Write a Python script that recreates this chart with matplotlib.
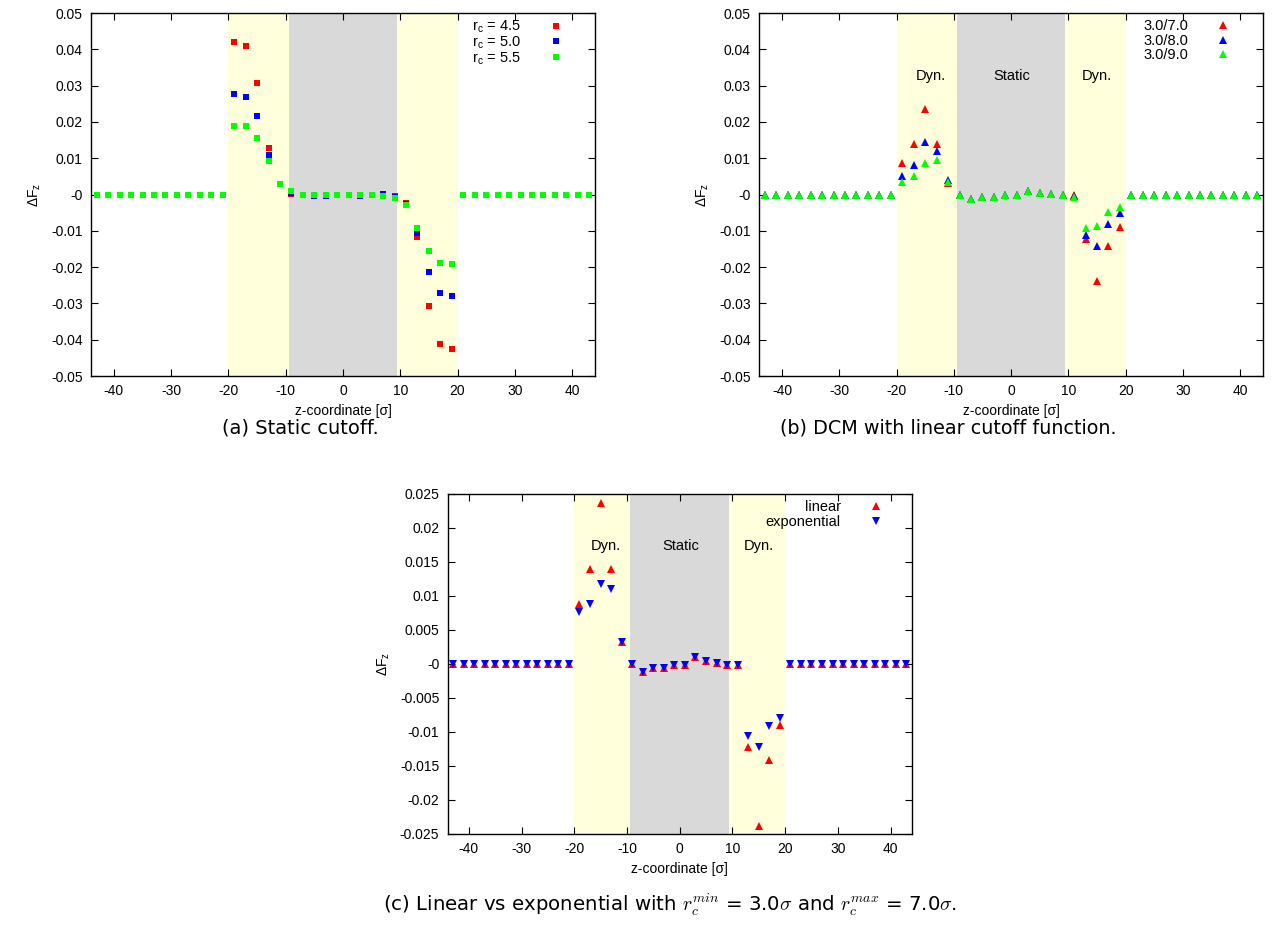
import matplotlib
matplotlib.use("Agg")
import matplotlib.pyplot as plt
from matplotlib.ticker import FuncFormatter, MultipleLocator

plt.rcParams['font.family'] = ['Liberation Sans', 'DejaVu Sans']
plt.rcParams['axes.unicode_minus'] = False

# z-Koordinaten der Messpunkte
z = [-43, -41, -39, -37, -35, -33, -31, -29, -27, -25, -23, -21,
     -19, -17, -15, -13, -11, -9, -7, -5, -3, -1,
     1, 3, 5, 7, 9, 11, 13, 15, 17, 19,
     21, 23, 25, 27, 29, 31, 33, 35, 37, 39, 41, 43]

zeros12 = [0.0] * 12

# (a) statischer Cutoff
a_rc45 = zeros12 + [0.0421, 0.0410, 0.0308, 0.0127, 0.0029, 0.0001, 0.0, -0.0002, -0.0002, 0.0,
                    0.0, -0.0001, -0.0002, -0.0001, -0.0004, -0.0024, -0.0118, -0.0307, -0.0411, -0.0425] + zeros12
a_rc50 = zeros12 + [0.0276, 0.0270, 0.0215, 0.0108, 0.0029, 0.0004, 0.0, -0.0003, -0.0003, 0.0,
                    0.0, -0.0003, -0.0002, 0.0002, -0.0008, -0.0027, -0.0105, -0.0213, -0.0271, -0.0279] + zeros12
a_rc55 = zeros12 + [0.0190, 0.0188, 0.0155, 0.0092, 0.0028, 0.0009, 0.0, 0.0, 0.0, 0.0,
                    0.0, 0.0, -0.0002, -0.0005, -0.0010, -0.0029, -0.0091, -0.0156, -0.0189, -0.0191] + zeros12

# (b) DCM, lineare Cutoff-Funktion
b_70 = zeros12 + [0.0087, 0.0139, 0.0237, 0.0139, 0.0033, 0.0, -0.0012, -0.0006, -0.0006, -0.0001,
                  -0.0001, 0.0011, 0.0005, 0.0002, -0.0002, -0.0002, -0.0122, -0.0237, -0.0141, -0.0089] + zeros12
b_80 = zeros12 + [0.0052, 0.0082, 0.0144, 0.0121, 0.0041, 0.0, -0.0012, -0.0006, -0.0006, -0.0001,
                  -0.0001, 0.0011, 0.0005, 0.0002, -0.0002, -0.0003, -0.0111, -0.0143, -0.0081, -0.0051] + zeros12
b_90 = zeros12 + [0.0034, 0.0050, 0.0087, 0.0096, 0.0034, 0.0, -0.0012, -0.0006, -0.0006, -0.0001,
                  -0.0001, 0.0011, 0.0005, 0.0002, -0.0002, -0.0008, -0.0092, -0.0087, -0.0049, -0.0033] + zeros12

# (c) linear vs exponentiell
c_lin = zeros12 + [0.00875, 0.0139, 0.0237, 0.0140, 0.0032, 0.0, -0.0012, -0.0006, -0.0006, -0.0001,
                   -0.0001, 0.0011, 0.0005, 0.0002, -0.0002, -0.0002, -0.0122, -0.0238, -0.0141, -0.0089] + zeros12
c_exp = zeros12 + [0.0076, 0.00875, 0.0118, 0.0111, 0.0032, 0.0, -0.0012, -0.0006, -0.0006, -0.0001,
                   -0.0001, 0.0011, 0.0005, 0.0002, -0.0002, -0.0002, -0.0106, -0.0122, -0.0091, -0.0079] + zeros12

# Bereiche: dynamisch | statisch | dynamisch
zone_edges = [-20, -9.5, 9.4, 20]
zone_labels = ['Dyn.', 'Static', 'Dyn.']
zone_label_x = [-14, 0.2, 15]

YELLOW = '#FFFFDC'
GRAY = '#D9D9D9'


def fmt(v, pos):
    return '%g' % round(v, 6)


def setup_axes(ax, ylim, ystep):
    for i in range(3):
        ax.axvspan(zone_edges[i], zone_edges[i + 1], color=GRAY if i == 1 else YELLOW, lw=0, zorder=0)
    ax.set_xlim(-44, 44)
    ax.set_ylim(*ylim)
    ax.xaxis.set_major_locator(MultipleLocator(10))
    ax.yaxis.set_major_locator(MultipleLocator(ystep))
    ax.yaxis.set_major_formatter(FuncFormatter(fmt))
    ax.tick_params(direction='in', top=True, right=True, length=5, width=0.8, labelsize=10, pad=6)
    for s in ax.spines.values():
        s.set_linewidth(1.0)
    ax.set_xlabel('z-coordinate [σ]', fontsize=10, labelpad=4)
    ax.set_ylabel(r'$\mathregular{\Delta F_z}$', fontsize=10, labelpad=6)


def add_zone_labels(ax, y):
    for lab, x in zip(zone_labels, zone_label_x):
        ax.text(x, y, lab, ha='center', va='center', fontsize=10.5)


def add_legend(ax, anchor, spacing):
    ax.legend(loc='upper right', bbox_to_anchor=anchor, frameon=False, markerfirst=False,
              numpoints=1, handlelength=1.2, handletextpad=1.8, labelspacing=spacing,
              fontsize=10.5, borderaxespad=0.5)


fig = plt.figure(figsize=(12.74, 9.31), dpi=100)
ax_a = fig.add_axes([0.0714, 0.5961, 0.3956, 0.3899])
ax_b = fig.add_axes([0.5958, 0.5961, 0.3956, 0.3899])
ax_c = fig.add_axes([0.3514, 0.1042, 0.3642, 0.3652])

# (a)
setup_axes(ax_a, (-0.05, 0.05), 0.01)
ax_a.plot(z, a_rc45, 's', color='#FF0000', ms=5, mew=0, label=r'$\mathregular{r_c}$ = 4.5')
ax_a.plot(z, a_rc50, 's', color='#0000FF', ms=5, mew=0, label=r'$\mathregular{r_c}$ = 5.0')
ax_a.plot(z, a_rc55, 's', color='#00FF00', ms=5, mew=0, label=r'$\mathregular{r_c}$ = 5.5')
add_legend(ax_a, (0.966, 1.02), -0.05)

# (b)
setup_axes(ax_b, (-0.05, 0.05), 0.01)
ax_b.plot(z, b_70, '^', color='#FF0000', ms=6, mew=0, label='3.0/7.0')
ax_b.plot(z, b_80, '^', color='#0000FF', ms=6, mew=0, label='3.0/8.0')
ax_b.plot(z, b_90, '^', color='#00FF00', ms=6, mew=0, label='3.0/9.0')
add_zone_labels(ax_b, 0.0327)
add_legend(ax_b, (0.964, 1.02), 0.05)

# (c)
setup_axes(ax_c, (-0.025, 0.025), 0.005)
ax_c.plot(z, c_lin, '^', color='#FF0000', ms=6, mew=0, label='linear')
ax_c.plot(z, c_exp, 'v', color='#0000FF', ms=6, mew=0, label='exponential')
add_zone_labels(ax_c, 0.0174)
add_legend(ax_c, (0.97, 1.02), 0.05)

# Bildunterschriften
fig.text(300 / 1274, 1 - 428 / 931, '(a) Static cutoff.', ha='center', va='center',
         fontsize=14, family='DejaVu Sans')
fig.text(948 / 1274, 1 - 428 / 931, '(b) DCM with linear cutoff function.', ha='center', va='center',
         fontsize=13.8, family='DejaVu Sans')
fig.text(670 / 1274, 1 - 905 / 931,
         r'(c) Linear vs exponential with $r_c^{min}$ = 3.0$\sigma$ and $r_c^{max}$ = 7.0$\sigma$.',
         ha='center', va='center', fontsize=14.2, family='DejaVu Sans', math_fontfamily='cm')

fig.savefig('out.png', dpi=100)
